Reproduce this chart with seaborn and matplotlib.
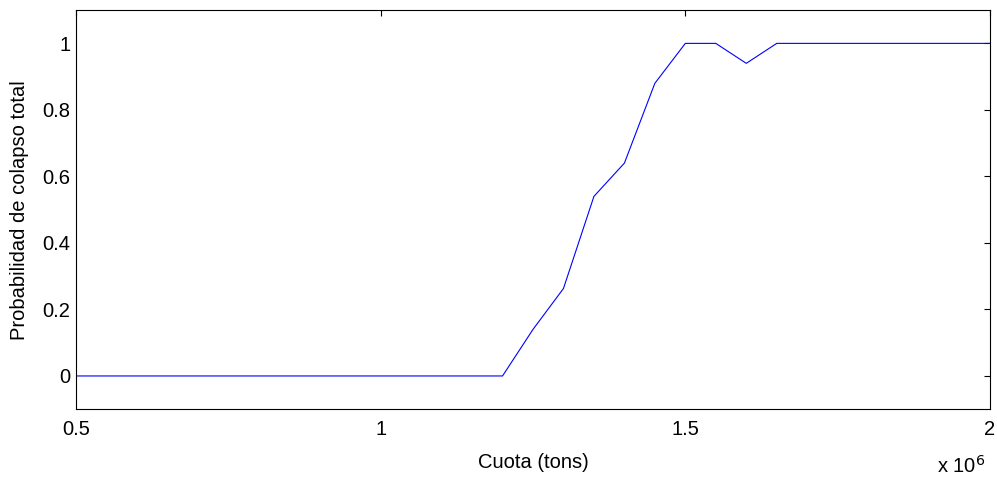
import pandas as pd
import numpy as np
import seaborn as sns
import matplotlib.pyplot as plt

# quota in units of 1e6 tons
cuota = [0.5, 0.55, 0.6, 0.65, 0.7, 0.75, 0.8, 0.85, 0.9, 0.95, 1.0,
         1.05, 1.1, 1.15, 1.2, 1.25, 1.3, 1.35, 1.4, 1.45, 1.5, 1.55,
         1.6, 1.65, 1.7, 1.75, 1.8, 1.85, 1.9, 1.95, 2.0]
prob = [0, 0, 0, 0, 0, 0, 0, 0, 0, 0, 0,
        0, 0, 0, 0, 0.14, 0.263, 0.54, 0.64, 0.88, 1.0, 1.0,
        0.94, 1.0, 1.0, 1.0, 1.0, 1.0, 1.0, 1.0, 1.0]
xticks = [0.5, 1, 1.5, 2]
xticklabels = ['0.5', '1', '1.5', '2']
yticks = [0, 0.2, 0.4, 0.6, 0.8, 1]
yticklabels = ['0', '0.2', '0.4', '0.6', '0.8', '1']

df = pd.DataFrame({'cuota': cuota, 'prob': prob})

sns.set_style('white')
plt.rcParams['font.family'] = ['Liberation Sans', 'DejaVu Sans']

fig = plt.figure(figsize=(9.97, 4.82), dpi=100)
ax = fig.add_axes([0.0762, 0.151, 0.9168, 0.828])
sns.lineplot(data=df, x='cuota', y='prob', color='#0000ff', linewidth=0.8, ax=ax)

ax.set_xlim(0.5, 2)
ax.set_ylim(-0.1, 1.1)
ax.set_xticks(xticks)
ax.set_xticklabels(xticklabels)
ax.set_yticks(yticks)
ax.set_yticklabels(yticklabels)
ax.tick_params(direction='in', length=4, width=0.8, top=True, right=True,
               labelsize=14.5, colors='black')
ax.tick_params(axis='x', pad=8)
ax.tick_params(axis='y', pad=4)
for s in ax.spines.values():
    s.set_color('black')
    s.set_linewidth(0.8)
ax.set_xlabel('Cuota (tons)', fontsize=14.5, labelpad=10, color='black')
ax.set_ylabel('Probabilidad de colapso total', fontsize=14.5, labelpad=10, color='black')
fig.text(0.988, 0.01, r'x 10$^{6}$', ha='right', va='bottom', fontsize=14.5, color='black')

plt.savefig('out.png', dpi=100)
